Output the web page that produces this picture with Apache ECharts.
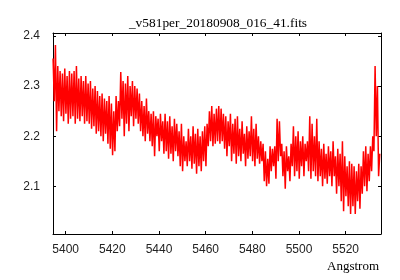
<!DOCTYPE html>
<html>
<head>
<meta charset="utf-8">
<script src="https://cdn.jsdelivr.net/npm/echarts@6/dist/echarts.min.js"></script>
<style>html,body{margin:0;padding:0;background:#fff}#c{width:400px;height:280px}</style>
</head>
<body>
<div id="c"></div>
<script>
const titleText = "_v581per_20180908_016_41.fits";
const xAxisLabel = "Angstrom";
const xTicks = [5400, 5420, 5440, 5460, 5480, 5500, 5520];
const yTicks = [2.1, 2.2, 2.3, 2.4];
// spectrum sampling (FITS-style start / step in Angstrom)
const waveStart = 5394.6;
const waveStep = 0.5;
const flux = [
  2.355, 2.27, 2.382, 2.21, 2.34,
  2.25, 2.33, 2.24, 2.325, 2.23, 2.335, 2.245, 2.32, 2.225, 2.33,
  2.235, 2.325, 2.24, 2.33, 2.225, 2.34, 2.235, 2.315,
  2.23, 2.32, 2.24, 2.31, 2.225, 2.32, 2.23, 2.305,
  2.225, 2.31, 2.215, 2.295, 2.22, 2.3, 2.205,
  2.29, 2.21, 2.28, 2.2, 2.285, 2.19, 2.275, 2.205, 2.27, 2.185, 2.28,
  2.175, 2.265, 2.162, 2.25, 2.17,
  2.28, 2.21, 2.27,
  2.22, 2.328, 2.235, 2.31, 2.2, 2.305, 2.225, 2.32, 2.21, 2.3, 2.24, 2.31, 2.22,
  2.3, 2.235, 2.295, 2.225, 2.285, 2.21,
  2.27, 2.2, 2.26, 2.19, 2.275, 2.205, 2.25, 2.19, 2.245,
  2.18, 2.25, 2.16, 2.24, 2.2, 2.235, 2.17, 2.245, 2.19, 2.23, 2.165,
  2.245, 2.17, 2.23, 2.155, 2.24, 2.165, 2.22, 2.15, 2.235, 2.17, 2.225,
  2.16, 2.21, 2.14, 2.225, 2.13, 2.2, 2.15, 2.19, 2.14,
  2.215, 2.15, 2.2, 2.135, 2.22, 2.145, 2.205, 2.125, 2.215, 2.14, 2.2, 2.13, 2.21, 2.15, 2.22, 2.14, 2.225,
  2.18, 2.25, 2.19, 2.26, 2.18, 2.245, 2.185, 2.255, 2.19, 2.26,
  2.185, 2.255, 2.19, 2.245,
  2.175, 2.24, 2.16, 2.23, 2.18, 2.245, 2.15, 2.225, 2.165, 2.235, 2.145,
  2.24, 2.16, 2.215, 2.15, 2.23, 2.165, 2.205, 2.14, 2.22, 2.155, 2.21,
  2.16, 2.24, 2.15, 2.215, 2.14, 2.225, 2.155, 2.2, 2.145, 2.19, 2.15, 2.185,
  2.11, 2.17, 2.1, 2.155, 2.105,
  2.18, 2.13, 2.175, 2.14, 2.18, 2.115,
  2.235, 2.15, 2.23, 2.16,
  2.185, 2.12, 2.17, 2.095, 2.18, 2.13, 2.16, 2.11, 2.185,
  2.14, 2.22, 2.12, 2.2, 2.13, 2.21, 2.115, 2.19,
  2.14, 2.2, 2.12, 2.185, 2.15, 2.19,
  2.13, 2.24, 2.115, 2.225, 2.13, 2.2, 2.12, 2.235, 2.11,
  2.19, 2.12, 2.175, 2.1, 2.185, 2.115, 2.165, 2.105, 2.18, 2.12, 2.17,
  2.1, 2.19, 2.12, 2.16, 2.085, 2.175, 2.1, 2.165,
  2.07, 2.19, 2.05, 2.16, 2.08, 2.14, 2.06, 2.15, 2.045,
  2.145, 2.06, 2.14, 2.045, 2.13, 2.07, 2.145, 2.055, 2.14,
  2.085, 2.17, 2.1, 2.18, 2.09, 2.165, 2.11, 2.18, 2.13, 2.2,
  2.17, 2.34, 2.2, 2.3,
  2.12, 2.165
];

const seriesData = flux.map((v, i) => [waveStart + i * waveStep, v]);

const chart = echarts.init(document.getElementById('c'), null, {renderer: 'canvas'});
const tickFont = {fontFamily: 'Liberation Sans', fontSize: 12, color: '#222'};
const lineStyle = {color: '#000', width: 1};
chart.setOption({
  animation: false,
  backgroundColor: '#fff',
  title: [
    {text: titleText, left: 213, top: 12, textAlign: 'center',
     textStyle: {fontFamily: 'Liberation Serif', fontSize: 13.4, fontWeight: 'normal', color: '#000'}},
    {text: xAxisLabel, right: 16, top: 255,
     textStyle: {fontFamily: 'Liberation Serif', fontSize: 13, fontWeight: 'normal', color: '#000'}}
  ],
  grid: {left: 53, right: 19, top: 33, bottom: 46},
  xAxis: [
    {type: 'value', position: 'bottom', min: 5394.56, max: 5535.13,
     axisLine: {show: true, onZero: false, lineStyle},
     axisTick: {show: true, inside: true, length: 3, customValues: xTicks, lineStyle},
     axisLabel: {show: true, customValues: xTicks, margin: 10, formatter: v => String(Math.round(v)), ...tickFont},
     splitLine: {show: false}},
    {type: 'value', position: 'top', min: 5394.56, max: 5535.13,
     axisLine: {show: true, onZero: false, lineStyle},
     axisTick: {show: true, inside: true, length: 3, customValues: xTicks, lineStyle},
     axisLabel: {show: false},
     splitLine: {show: false}}
  ],
  yAxis: [
    {type: 'value', position: 'left', min: 2.0048, max: 2.406,
     axisLine: {show: true, onZero: false, lineStyle},
     axisTick: {show: true, inside: true, length: 3, customValues: yTicks, lineStyle},
     axisLabel: {show: true, customValues: yTicks, margin: 13, formatter: v => v.toFixed(1), ...tickFont},
     splitLine: {show: false}},
    {type: 'value', position: 'right', min: 2.0048, max: 2.406,
     axisLine: {show: true, onZero: false, lineStyle},
     axisTick: {show: true, inside: true, length: 3, customValues: yTicks, lineStyle},
     axisLabel: {show: false},
     splitLine: {show: false}}
  ],
  series: [{
    type: 'line',
    xAxisIndex: 0, yAxisIndex: 0,
    data: seriesData,
    showSymbol: false,
    symbol: 'none',
    sampling: false,
    lineStyle: {color: '#ff0000', width: 1.5},
    clip: true
  }]
});
</script>
</body>
</html>
